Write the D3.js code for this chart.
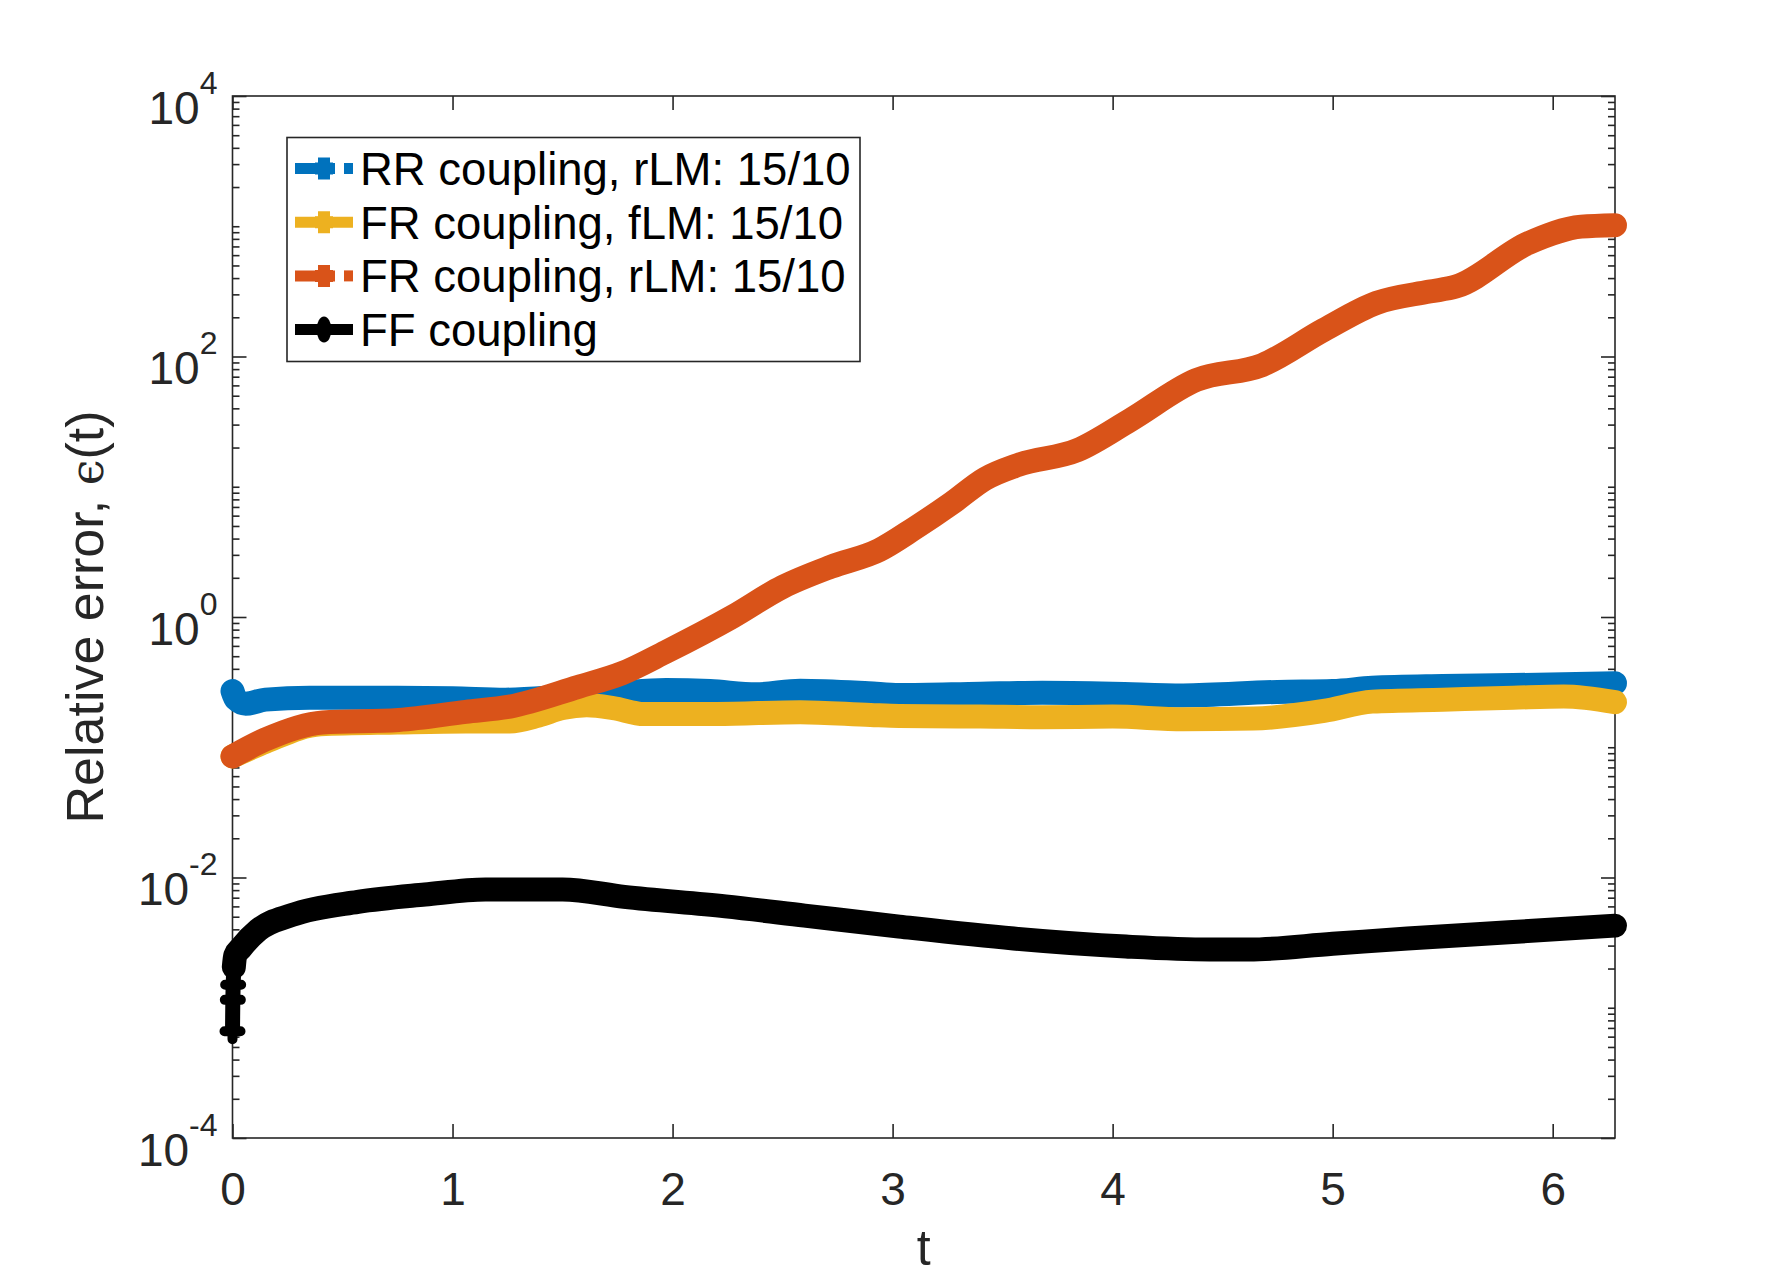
<!DOCTYPE html>
<html>
<head>
<meta charset="utf-8">
<script src="https://cdn.jsdelivr.net/npm/d3@7"></script>
<style>
  body { margin: 0; background: #fff; }
</style>
</head>
<body>
<div id="chart"></div>
<script>
// values (t, relative error)
const tRR  = [0, 0.015, 0.06, 0.15, 0.35, 0.75, 1.0, 1.24, 1.5, 1.75, 1.97, 2.17, 2.38, 2.58, 2.89, 3.03, 3.4, 3.68, 4.0, 4.32, 4.75, 5.0, 5.18, 5.5, 5.82, 6.283];
const eRR  = [0.27, 0.235, 0.216, 0.232, 0.24, 0.24, 0.238, 0.232, 0.245, 0.262, 0.275, 0.27, 0.255, 0.272, 0.26, 0.252, 0.258, 0.262, 0.258, 0.25, 0.266, 0.27, 0.286, 0.295, 0.30, 0.31];

const tFRf = [0, 0.15, 0.4, 0.75, 1.06, 1.26, 1.39, 1.5, 1.61, 1.73, 1.87, 2.2, 2.58, 2.9, 3.03, 3.4, 3.68, 4.0, 4.32, 4.64, 4.96, 5.18, 5.5, 5.82, 6.05, 6.283];
const eFRf = [0.085, 0.11, 0.15, 0.155, 0.158, 0.158, 0.175, 0.2, 0.21, 0.2, 0.18, 0.18, 0.186, 0.177, 0.174, 0.172, 0.17, 0.172, 0.164, 0.166, 0.19, 0.224, 0.232, 0.24, 0.245, 0.222];

const tFRr = [0, 0.146, 0.41, 0.755, 1.06, 1.26, 1.57, 1.77, 1.97, 2.27, 2.5, 2.72, 2.94, 3.1, 3.27, 3.42, 3.57, 3.84, 4.08, 4.38, 4.68, 4.96, 5.2, 5.44, 5.56, 5.89, 6.13, 6.283];
const eFRr = [0.085, 0.114, 0.155, 0.162, 0.187, 0.205, 0.29, 0.37, 0.54, 1.0, 1.7, 2.43, 3.27, 4.8, 7.5, 11.5, 14.7, 19.1, 32.5, 66, 86, 160, 258, 315, 344, 743, 993, 1020];

const tFF  = [0, 0.0015, 0.003, 0.006, 0.012, 0.04, 0.117, 0.27, 0.57, 0.875, 1.15, 1.5, 1.78, 2.24, 2.6, 3.03, 3.55, 4.06, 4.44, 4.62, 5.0, 5.34, 5.8, 6.283];
const eFF  = [6.6e-4, 1.15e-3, 1.5e-3, 2.05e-3, 2.5e-3, 2.9e-3, 3.95e-3, 5.15e-3, 6.5e-3, 7.4e-3, 8.1e-3, 8.1e-3, 7.1e-3, 6.0e-3, 5.1e-3, 4.2e-3, 3.4e-3, 2.95e-3, 2.8e-3, 2.8e-3, 3.1e-3, 3.4e-3, 3.8e-3, 4.27e-3];

const legendLabels = ["RR coupling, rLM: 15/10", "FR coupling, fLM: 15/10", "FR coupling, rLM: 15/10", "FF coupling"];
const seriesColors = ["#0072BD", "#EDB120", "#D95319", "#000000"];
const xTicks = [0, 1, 2, 3, 4, 5, 6];
const yMajor = [1e-4, 1e-2, 1, 1e2, 1e4];

const W = 1784, H = 1280;
const axisColor = "#262626";
const font = "'Liberation Sans', Arial, Helvetica, sans-serif";

const svg = d3.select("#chart").append("svg")
  .attr("width", W)
  .attr("height", H)
  .style("font-family", font);

svg.append("rect").attr("width", W).attr("height", H).attr("fill", "#fff");

const x = d3.scaleLinear().domain([0, 2 * Math.PI]).range([232.5, 1615]);
const y = d3.scaleLog().domain([1e-4, 1e4]).range([1138, 96]);

const [x0, x1] = x.range();
const [yb, yt] = y.range();

// frame
svg.append("rect")
  .attr("x", x0).attr("y", yt)
  .attr("width", x1 - x0).attr("height", yb - yt)
  .attr("fill", "none")
  .attr("stroke", axisColor)
  .attr("stroke-width", 1.6);

function styleAxis(g) {
  g.select(".domain").remove();
  g.selectAll(".tick line").attr("stroke", axisColor).attr("stroke-width", 1.6);
  g.selectAll(".tick text").attr("fill", axisColor);
}

// x axes (bottom with labels, top ticks only)
const gx = svg.append("g")
  .attr("transform", `translate(0,${yb})`)
  .call(d3.axisBottom(x).tickValues(xTicks).tickSizeInner(-14).tickSizeOuter(0).tickPadding(34).tickFormat(d3.format("d")))
  .call(styleAxis);
gx.selectAll(".tick text").attr("font-size", 46).attr("font-family", font);

svg.append("g")
  .attr("transform", `translate(0,${yt})`)
  .call(d3.axisTop(x).tickValues(xTicks).tickSizeInner(-14).tickSizeOuter(0).tickFormat(""))
  .call(styleAxis);

// y axes
const minor = y.ticks().filter(v => !yMajor.some(m => Math.abs(m - v) / m < 1e-9));

const gy = svg.append("g")
  .attr("transform", `translate(${x0},0)`)
  .call(d3.axisLeft(y).tickValues(yMajor).tickSizeInner(-14).tickSizeOuter(0).tickPadding(15))
  .call(styleAxis);

gy.selectAll(".tick text").each(function (d) {
  const e = Math.round(Math.log10(d));
  const t = d3.select(this).text(null)
    .attr("dy", 27)
    .attr("font-size", 46)
    .attr("font-family", font);
  t.append("tspan").text("10");
  t.append("tspan").attr("dy", -30).attr("font-size", 32).text(String(e));
});

svg.append("g")
  .attr("transform", `translate(${x0},0)`)
  .call(d3.axisLeft(y).tickValues(minor).tickSizeInner(-7).tickSizeOuter(0).tickFormat(""))
  .call(styleAxis);

svg.append("g")
  .attr("transform", `translate(${x1},0)`)
  .call(d3.axisRight(y).tickValues(yMajor).tickSizeInner(-14).tickSizeOuter(0).tickFormat(""))
  .call(styleAxis);

svg.append("g")
  .attr("transform", `translate(${x1},0)`)
  .call(d3.axisRight(y).tickValues(minor).tickSizeInner(-7).tickSizeOuter(0).tickFormat(""))
  .call(styleAxis);

// axis labels
svg.append("text")
  .attr("x", (x0 + x1) / 2)
  .attr("y", 1265)
  .attr("text-anchor", "middle")
  .attr("font-size", 50)
  .attr("fill", axisColor)
  .text("t");

const ylab = svg.append("text")
  .attr("transform", `translate(103,${(yb + yt) / 2}) rotate(-90)`)
  .attr("text-anchor", "middle")
  .attr("font-size", 52)
  .attr("fill", axisColor);
ylab.append("tspan").text("Relative error, ");
ylab.append("tspan").attr("font-family", "'DejaVu Serif', serif").attr("font-size", 46).text("\u03F5");
ylab.append("tspan").text("(t)");

// curves
const line = d3.line()
  .x(d => x(d[0]))
  .y(d => y(d[1]))
  .curve(d3.curveMonotoneX);

const series = [
  d3.zip(tRR, eRR),
  d3.zip(tFRf, eFRf),
  d3.zip(tFRr, eFRr),
  d3.zip(tFF, eFF)
];

const curves = svg.append("g");

series.forEach((pts, i) => {
  if (i === 3) {
    // thin start of FF curve with its visible '+' markers
    curves.append("path")
      .attr("d", d3.line().x(d => x(d[0])).y(d => y(d[1]))(pts.slice(0, 4)))
      .attr("fill", "none")
      .attr("stroke", seriesColors[i])
      .attr("stroke-width", 15);
    curves.selectAll(".ffmark")
      .data(pts.slice(0, 3))
      .join("path")
      .attr("class", "ffmark")
      .attr("transform", d => `translate(${x(d[0])},${y(d[1])})`)
      .attr("d", "M-8,0H8M0,-8V8")
      .attr("stroke", seriesColors[i])
      .attr("stroke-width", 10)
      .attr("stroke-linecap", "round");
    pts = pts.slice(3);
  }
  curves.append("path")
    .attr("d", line(pts))
    .attr("fill", "none")
    .attr("stroke", seriesColors[i])
    .attr("stroke-width", 24)
    .attr("stroke-linecap", "round")
    .attr("stroke-linejoin", "round");
});

// legend
const legend = svg.append("g");
legend.append("rect")
  .attr("x", 287).attr("y", 137.5)
  .attr("width", 573).attr("height", 224)
  .attr("fill", "#fff")
  .attr("stroke", axisColor)
  .attr("stroke-width", 1.6);

const dashed = [true, false, true, false];

legendLabels.forEach((label, i) => {
  const base = 185 + i * 53.7;
  const cy = base - 16.5;
  const g = legend.append("g");
  const c = seriesColors[i];
  if (dashed[i]) {
    g.append("line").attr("x1", 295).attr("x2", 335).attr("y1", cy).attr("y2", cy)
      .attr("stroke", c).attr("stroke-width", 11);
    g.append("line").attr("x1", 344).attr("x2", 353).attr("y1", cy).attr("y2", cy)
      .attr("stroke", c).attr("stroke-width", 11);
  } else {
    g.append("line").attr("x1", 295).attr("x2", 353).attr("y1", cy).attr("y2", cy)
      .attr("stroke", c).attr("stroke-width", 11);
  }
  if (i === 3) {
    g.append("ellipse").attr("cx", 324).attr("cy", cy).attr("rx", 7.5).attr("ry", 13).attr("fill", c);
  } else {
    g.append("path")
      .attr("transform", `translate(324,${cy})`)
      .attr("d", "M-9,0H9M0,-11V11")
      .attr("stroke", c)
      .attr("stroke-width", 12);
  }
  g.append("text")
    .attr("x", 360)
    .attr("y", base)
    .attr("font-size", 45.5)
    .attr("fill", "#000")
    .text(label);
});
</script>
</body>
</html>
